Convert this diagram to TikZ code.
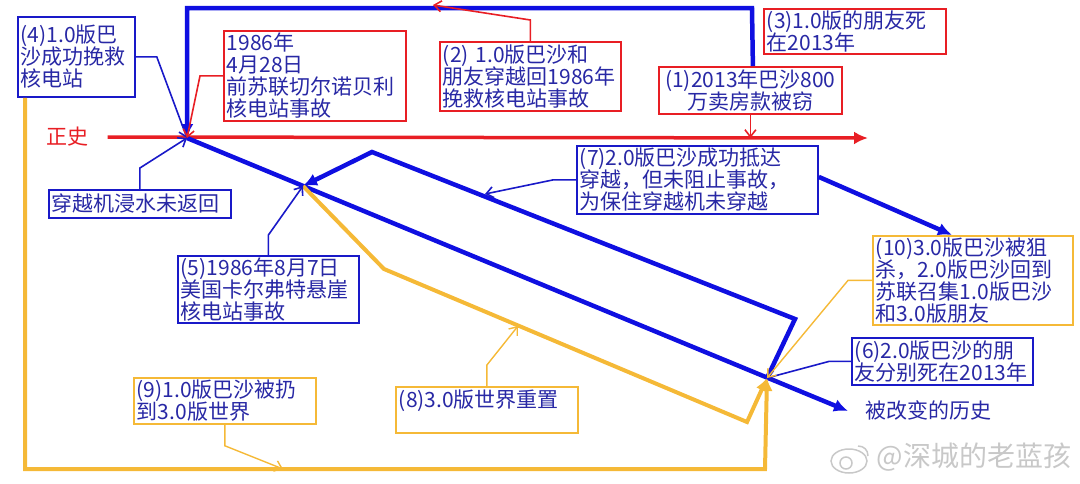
\documentclass[tikz,border=0pt]{standalone}
\usepackage{fontspec}
\newfontfamily\cjk{Noto Sans CJK SC}
\usetikzlibrary{arrows.meta,calc}
\definecolor{tnavy}{RGB}{40,40,165}
\definecolor{bbord}{RGB}{25,25,200}
\definecolor{lblue}{RGB}{15,15,225}
\definecolor{myred}{RGB}{232,30,36}
\definecolor{myyel}{RGB}{245,185,55}
\definecolor{wmgray}{RGB}{200,200,200}
\begin{document}
\begin{tikzpicture}[x=1pt,y=-1pt,
 txt/.style={font=\cjk\fontsize{21}{22}\selectfont, text=tnavy},
 boxbase/.style={txt, fill=white, line width=1.8pt, inner xsep=3pt, inner ysep=1pt, anchor=north west, align=left},
 rbox/.style={boxbase, draw=myred},
 bbox/.style={boxbase, draw=bbord},
 ybox/.style={boxbase, draw=myyel},
 sz/.style n args={3}{minimum width=#1pt, minimum height=#2pt, text width=#3pt},
 thickb/.style={draw=lblue, line width=4.5pt, -{Latex[length=14pt,width=13pt]}},
 thicky/.style={draw=myyel, line width=4pt, -{Latex[length=13pt,width=12pt]}},
 thinb/.style={draw=bbord, line width=1.6pt, -{Straight Barb[length=7pt,width=11pt]}},
 thinr/.style={draw=myred, line width=1.6pt, -{Straight Barb[length=7pt,width=11pt]}},
 thiny/.style={draw=myyel, line width=1.4pt, -{Straight Barb[length=7pt,width=11pt]}},
]
\useasboundingbox (0,0) rectangle (1080,483);

% key points
\coordinate (P0) at (187,138);
\coordinate (Pend) at (848,411);
\coordinate (P1) at (303,186);
\coordinate (P2) at (767,378);
\coordinate (mainEnd) at (868,138);
\coordinate (c2) at (433,5);
\coordinate (c7) at (485,194);
\coordinate (c8) at (518,326);
\coordinate (c9) at (283,469);

% boxes
\node[bbox, sz={117}{80}{111}] (n4) at (17,16) {(4)1.0版巴\\沙成功挽救\\核电站};
\node[rbox, sz={182}{90}{176}] (nD) at (223,30) {1986年\\4月28日\\前苏联切尔诺贝利\\核电站事故};
\node[rbox, sz={181}{69}{175}] (n2) at (439,41) {(2)\ 1.0版巴沙和\\朋友穿越回1986年\\挽救核电站事故};
\node[rbox, sz={182}{45}{176}] (n3) at (763,8) {(3)1.0版的朋友死\\在2013年};
\node[rbox, sz={183}{47}{177}, align=center] (n1) at (658,66) {(1)2013年巴沙800\\万卖房款被窃};
\node[bbox, sz={182}{28}{176}] (nJ) at (48,189) {穿越机浸水未返回};
\node[bbox, sz={241}{68}{235}] (n7) at (576,145) {(7)2.0版巴沙成功抵达\\穿越，但未阻止事故，\\为保住穿越机未穿越};
\node[bbox, sz={181}{67}{175}] (n5) at (177,255) {(5)1986年8月7日\\美国卡尔弗特悬崖\\核电站事故};
\node[ybox, sz={200}{89}{194}] (n10) at (872,235) {(10)3.0版巴沙被狙\\杀，2.0版巴沙回到\\苏联召集1.0版巴沙\\和3.0版朋友};
\node[bbox, sz={181}{47}{175}] (n6) at (851,337) {(6)2.0版巴沙的朋\\友分别死在2013年};
\node[ybox, sz={182}{46}{176}] (n9) at (133,377) {(9)1.0版巴沙被扔\\到3.0版世界};
\node[ybox, sz={182}{46}{176}] (n8) at (395,386) {(8)3.0版世界重置\\~};

% labels
\node[txt, text=myred] (zs) at (67,137) {正史};
\node[txt, anchor=west] (gb) at (862,410) {被改变的历史};

% main history line
\draw[myred, line width=3.5pt, -{Latex[length=14pt,width=13pt]}] ($(zs.east)+(16,0)$) -- (mainEnd);

% thick blue paths
\draw[thickb] (P0) -- (Pend);
\draw[thickb] ($(n1.north)+(2.5,0)$) -- (752,8) -- (187,8) -- (P0);
\draw[thickb] (P2) -- (795,319) -- (372,152) -- (P1);
\draw[thickb] ($(n7.east)+(0,-3)$) -- ($(n10.north west)+(80,0)$);

% thick yellow paths
\draw[thicky] ($(n4.south west)+(8,0)$) -- (25,469) -- (765,469) -- (P2);
\draw[thicky] (P1) -- (384,269) -- (747,422) -- (P2);

% thin connectors
\draw[thinb] (n4.east) -- ++(21,0) -- (P0);
\draw[thinr] (nD.west) -- ++(-23,0) -- (P0);
\draw[thinb] (nJ.north) -- ++(0,-21) -- (P0);
\draw[thinb] (n5.north) -- ++(0,-20) -- (P1);
\draw[thinb] (n7.west) -- ++(-23,0) -- (c7);
\draw[thinr] (n1.south) -- (n1.south |- mainEnd);
\draw[thinr] (n2.north) -- ++(0,-21) -- (c2);
\draw[thinb] (n6.west) -- ++(-22,0) -- (P2);
\draw[thiny] (n10.west) -- ++(-24,0) -- (P2);
\draw[thiny] (n8.north) -- ++(0,-21) -- (c8);
\draw[thiny] (n9.south) -- ++(0,21) -- (c9);

% watermark
\node[font=\cjk\fontsize{28}{30}\selectfont, text=wmgray, anchor=west] (wmk) at (873,457) {@深城的老蓝孩};
\draw[wmgray, line width=1.5pt] (849,461) ellipse [x radius=18pt, y radius=12pt];
\draw[wmgray, line width=1.5pt] (846,463) circle [radius=6pt];
\draw[wmgray, line width=1.5pt] (858,446) .. controls (864,446) and (868,450) .. (868,456);
\end{tikzpicture}
\end{document}
